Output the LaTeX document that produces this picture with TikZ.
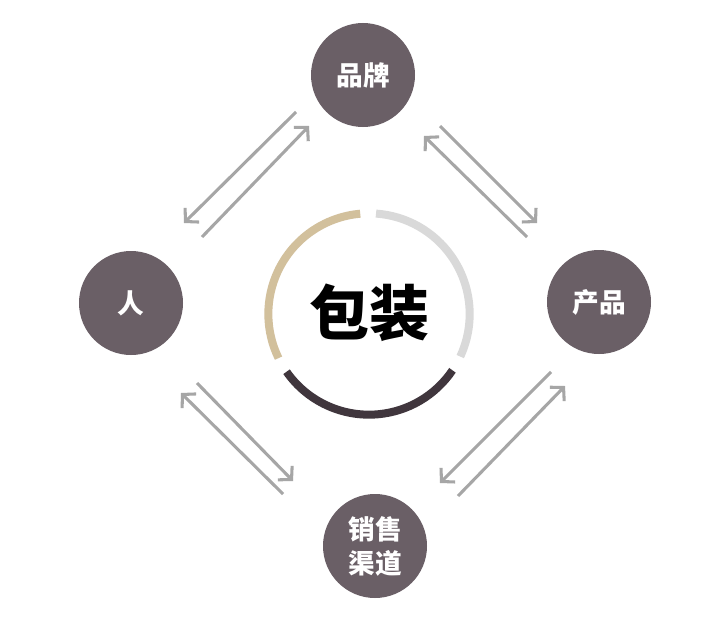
\documentclass[tikz,border=0pt]{standalone}
\usepackage{fontspec}
\newfontfamily\cjk{Noto Sans CJK SC}
\usetikzlibrary{arrows.meta}
\definecolor{nodefill}{HTML}{6A5F66}
\definecolor{arrowgray}{HTML}{A6A6A6}
\definecolor{tanarc}{HTML}{D2C09C}
\definecolor{grayarc}{HTML}{D9D9D9}
\definecolor{darkarc}{HTML}{40363D}
\tikzset{
  topic/.style={circle, fill=nodefill, minimum size=78pt, inner sep=0pt, text=white,
    font=\cjk\bfseries\fontsize{20pt}{25pt}\selectfont, align=center},
  flow/.style={draw=arrowgray, line width=2.3pt, -{Straight Barb[length=7pt,width=15pt,line width=2.3pt]}},
  ring/.style={line width=6pt}
}
\begin{document}
\begin{tikzpicture}[x=0.75pt,y=-0.75pt]
\useasboundingbox (0,0) rectangle (720,642);
\fill[white] (0,0) rectangle (720,642);
% nodes
\node[topic] (brand) at (363,75) {品牌};
\node[topic] (person) at (131,303) {人};
\node[topic] (product) at (599,302) {产品};
\node[topic, font=\cjk\bfseries\fontsize{20pt}{25.5pt}\selectfont] (channel) at (375,546) {销售\\渠道};
\node[font=\cjk\bfseries\fontsize{45pt}{50pt}\selectfont] (pack) at (369,313) {包装};
\coordinate (c) at (369,314);
% ring arcs
\draw[ring, tanarc] ([shift={(95:75.5pt)}]c) arc[start angle=95, end angle=206, radius=75.5pt];
\draw[ring, darkarc] ([shift={(215:75.5pt)}]c) arc[start angle=215, end angle=326, radius=75.5pt];
\draw[ring, grayarc] ([shift={(-25:75.5pt)}]c) arc[start angle=-25, end angle=86, radius=75.5pt];
% arrow endpoints
\coordinate (a1s) at (296,112); \coordinate (a1e) at (184,223);
\coordinate (b1s) at (202,237); \coordinate (b1e) at (309,126);
\coordinate (a2s) at (440,126); \coordinate (a2e) at (537,223);
\coordinate (b2s) at (527,237); \coordinate (b2e) at (424,136);
\coordinate (a3s) at (197,383); \coordinate (a3e) at (293,481);
\coordinate (b3s) at (283,494); \coordinate (b3e) at (181,393);
\coordinate (a4s) at (551,372); \coordinate (a4e) at (440,483);
\coordinate (b4s) at (458,496); \coordinate (b4e) at (565,386);
\draw[flow] (a1s) -- (a1e);
\draw[flow] (b1s) -- (b1e);
\draw[flow] (a2s) -- (a2e);
\draw[flow] (b2s) -- (b2e);
\draw[flow] (a3s) -- (a3e);
\draw[flow] (b3s) -- (b3e);
\draw[flow] (a4s) -- (a4e);
\draw[flow] (b4s) -- (b4e);
\end{tikzpicture}
\end{document}
